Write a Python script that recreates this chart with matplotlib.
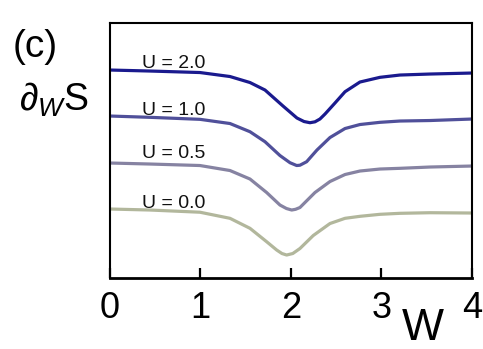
import numpy as np
import matplotlib.pyplot as plt

plt.rcParams['font.family'] = ['Liberation Sans', 'DejaVu Sans']
plt.rcParams['mathtext.fontset'] = 'custom'
plt.rcParams['mathtext.rm'] = 'Liberation Sans'
plt.rcParams['mathtext.it'] = 'Liberation Sans:italic'

# curves (arbitrary units, offset per U)
w_u20 = [0.0, 0.442, 0.994, 1.326, 1.547, 1.713, 1.912, 2.066, 2.144, 2.21, 2.265, 2.32, 2.376,
         2.486, 2.597, 2.762, 2.983, 3.204, 3.536, 4.0]
s_u20 = [208, 207, 205.5, 201.5, 195.5, 188, 172, 160, 156.5, 155.3, 156.2, 159, 164,
         175, 186.3, 196, 200.7, 203, 204, 205]

w_u10 = [0.0, 0.442, 0.994, 1.326, 1.547, 1.713, 1.878, 1.989, 2.063, 2.099, 2.173, 2.287,
         2.431, 2.597, 2.762, 2.983, 3.204, 3.536, 4.0]
s_u10 = [162, 160.7, 158.7, 154.5, 146.3, 136.3, 122.5, 115.3, 112.5, 112.8, 116.3, 128,
         140.5, 149.5, 153.5, 155.7, 157, 157.5, 159]

w_u05 = [0.0, 0.442, 0.994, 1.326, 1.547, 1.731, 1.878, 1.95, 2.008, 2.05, 2.099, 2.265,
         2.431, 2.597, 2.762, 2.983, 3.204, 3.536, 4.0]
s_u05 = [115, 114, 112.5, 107.5, 99, 85.5, 73, 69.5, 68, 68.7, 70.5, 85.5,
         96.5, 103.5, 107, 109, 109.7, 111, 112]

w_u00 = [0.0, 0.442, 0.994, 1.326, 1.547, 1.731, 1.842, 1.9, 1.952, 2.02, 2.099, 2.246,
         2.431, 2.597, 2.762, 2.983, 3.204, 3.536, 4.0]
s_u00 = [69, 68, 65.8, 59.7, 49.7, 36.3, 28, 24.5, 23, 24.5, 29.5, 42.5,
         54.5, 59.7, 61.7, 63.7, 64.7, 65.3, 65]

labels = ["U = 2.0", "U = 1.0", "U = 0.5", "U = 0.0"]
label_y = [210, 163, 120, 70]
colors = ["#1a1a8e", "#50509a", "#8683a2", "#b2b79c"]

fig = plt.figure(figsize=(4.83, 3.49), dpi=100)
ax = fig.add_axes([0.2277, 0.2034, 0.7495, 0.7306])

curves = [(w_u20, s_u20), (w_u10, s_u10), (w_u05, s_u05), (w_u00, s_u00)]
for (w, s), c, lab, ly in zip(curves, colors, labels, label_y):
    ax.plot(w, s, color=c, lw=2.3, solid_capstyle='round', solid_joinstyle='round')
    ax.text(0.35, ly, lab, fontsize=14, color='#111111', va='baseline', ha='left')

ax.set_xlim(0, 4)
ax.set_ylim(0, 255)
ax.set_xticks([0, 1, 2, 3, 4])
ax.set_yticks([])
ax.tick_params(axis='x', direction='in', length=7, width=1.6, labelsize=26, pad=9)
for sp in ax.spines.values():
    sp.set_linewidth(1.5)
ax.spines['bottom'].set_linewidth(2)

fig.text(0.027, 0.865, "(c)", fontsize=28, ha='left', va='center')
fig.text(0.04, 0.713, r"$\partial_W$S", fontsize=27, ha='left', va='center')
fig.text(0.876, 0.0, "W", fontsize=32, ha='center', va='bottom')

fig.savefig("out.png", dpi=100)
